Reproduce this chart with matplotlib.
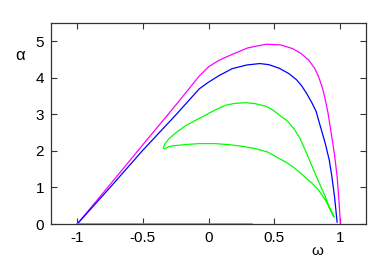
import matplotlib
matplotlib.use("Agg")
import matplotlib.pyplot as plt

plt.rcParams["font.family"] = ["Liberation Sans", "DejaVu Sans"]

# 数据
mag_x = [-1.0, -0.75, -0.5, -0.25, -0.07, 0.0, 0.08, 0.18, 0.3, 0.44, 0.55, 0.64, 0.7, 0.765, 0.81, 0.84, 0.87, 0.89, 0.91, 0.93, 0.96, 0.98, 0.995, 1.005]
mag_y = [0.0, 1.08, 2.17, 3.25, 4.05, 4.3, 4.48, 4.64, 4.82, 4.92, 4.9, 4.8, 4.68, 4.48, 4.25, 4.02, 3.7, 3.4, 3.05, 2.6, 1.9, 1.3, 0.6, 0.0]

blue_x = [-1.0, -0.75, -0.5, -0.25, -0.07, 0.0, 0.08, 0.18, 0.29, 0.39, 0.46, 0.54, 0.61, 0.67, 0.71, 0.75, 0.79, 0.82, 0.85, 0.89, 0.92, 0.94, 0.96, 0.98]
blue_y = [0.0, 1.0, 2.02, 2.98, 3.7, 3.88, 4.06, 4.25, 4.35, 4.39, 4.36, 4.26, 4.12, 3.95, 3.78, 3.56, 3.3, 3.08, 2.7, 2.2, 1.75, 1.3, 0.75, 0.05]

green_x = [0.955, 0.92, 0.89, 0.84, 0.79, 0.74, 0.69, 0.65, 0.6, 0.54, 0.49, 0.44, 0.36, 0.285, 0.2, 0.13, 0.05, -0.07, -0.17, -0.24, -0.3, -0.33, -0.345,
           -0.333, -0.3, -0.245, -0.15, -0.07, 0.05, 0.16, 0.27, 0.36, 0.45, 0.54, 0.6, 0.66, 0.73, 0.79, 0.84, 0.89, 0.925, 0.955]
green_y = [0.2, 0.45, 0.75, 1.15, 1.57, 2.0, 2.39, 2.61, 2.82, 2.98, 3.12, 3.22, 3.29, 3.32, 3.3, 3.25, 3.12, 2.89, 2.7, 2.52, 2.34, 2.2, 2.08,
           2.06, 2.12, 2.15, 2.18, 2.2, 2.2, 2.17, 2.12, 2.06, 1.97, 1.79, 1.67, 1.52, 1.3, 1.11, 0.92, 0.66, 0.42, 0.2]

base_x = [-1.0, 0.33]
base_y = [0.0, 0.0]

xticks = [-1, -0.5, 0, 0.5, 1]
xtick_labels = ["-1", "-0.5", "0", "0.5", "1"]
yticks = [0, 1, 2, 3, 4, 5]

fig = plt.figure(figsize=(3.89, 2.59), dpi=100)
ax = fig.add_axes([51 / 389, 1 - 224 / 259, 315 / 389, 201 / 259])

ax.plot(mag_x, mag_y, color="#ff00ff", lw=0.9)
ax.plot(blue_x, blue_y, color="#0000ff", lw=0.9)
ax.plot(green_x, green_y, color="#00ff00", lw=0.9)
ax.plot(base_x, base_y, color="#00ff00", lw=1.2)

ax.set_xlim(-1.2, 1.2)
ax.set_ylim(0, 5.5)
ax.set_xticks(xticks)
ax.set_xticklabels(xtick_labels)
ax.set_yticks(yticks)
ax.tick_params(direction="in", top=True, right=True, length=4, width=0.8,
               labelsize=11, pad=5, color="#333333")
for s in ax.spines.values():
    s.set_linewidth(0.9)
    s.set_color("#333333")

fig.text(20 / 389, 1 - 55 / 259, "α", fontsize=12, ha="center", va="center")
fig.text(317 / 389, 1 / 259, "ω", fontsize=11, ha="center", va="bottom")

fig.savefig("out.png", dpi=100)
